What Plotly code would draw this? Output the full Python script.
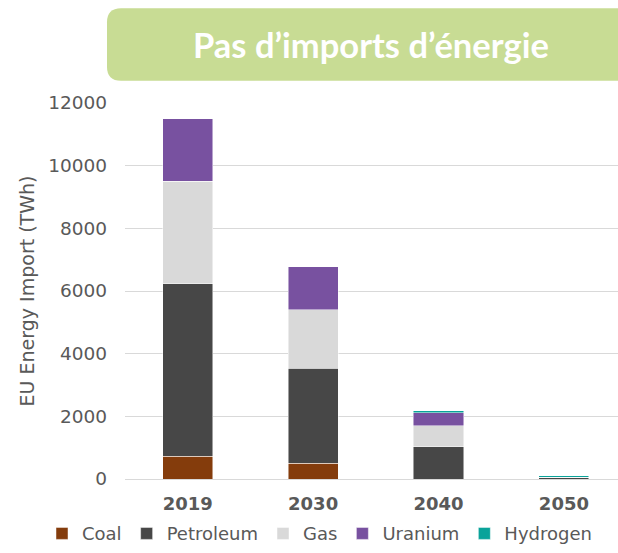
import plotly.graph_objects as go

years = ["2019", "2030", "2040", "2050"]
coal = [720, 510, 0, 0]
petroleum = [5510, 3030, 1030, 60]
gas = [3270, 1860, 670, 0]
uranium = [2000, 1380, 410, 0]
hydrogen = [0, 0, 65, 50]

series = [
    ("Coal", coal, "#843C0C"),
    ("Petroleum", petroleum, "#474747"),
    ("Gas", gas, "#D9D9D9"),
    ("Uranium", uranium, "#7851A0"),
    ("Hydrogen", hydrogen, "#0AA39A"),
]

W, H = 618, 553
L, R, T, B = 125, 0, 103.3, 73.7
PW, PH = W - L - R, H - T - B
UNIT = 125.4  # px per category


def px_x(sx):
    return (sx - L) / PW


def px_y(sy):
    return (H - B - sy) / PH


fig = go.Figure()
for name, vals, col in series:
    fig.add_trace(go.Bar(
        name=name, x=years, y=vals,
        marker=dict(color=col, line=dict(color="rgba(255,255,255,0.6)", width=0.8)),
    ))

# rounded title box, given in pixels
x0, x1, y0, y1, r = 107, 660, 8.5, 81, 14
def P(x, y):
    return f"{px_x(x):.5f},{px_y(y):.5f}"
path = (f"M{P(x0 + r, y0)} L{P(x1, y0)} L{P(x1, y1)} L{P(x0 + r, y1)} "
        f"Q{P(x0, y1)} {P(x0, y1 - r)} L{P(x0, y0 + r)} Q{P(x0, y0)} {P(x0 + r, y0)} Z")

gray = "#595959"
fig.update_layout(
    template="none",
    width=W, height=H,
    margin=dict(l=L, r=R, t=T, b=B, pad=0),
    plot_bgcolor="white", paper_bgcolor="white",
    barmode="stack", bargap=0.6,
    font=dict(family="DejaVu Sans", color=gray, size=18),
    shapes=[dict(type="path", xref="paper", yref="paper", path=path,
                 fillcolor="#C8DC94", line=dict(width=0), layer="below")],
    annotations=[dict(text="<b>Pas d’imports d’énergie</b>", xref="paper", yref="paper",
                      x=px_x(370.5), y=px_y(45), xanchor="center", yanchor="middle",
                      showarrow=False, font=dict(family="Lato", size=34.5, color="white"))],
    legend=dict(orientation="h", xref="paper", yref="paper",
                x=px_x(42), y=-(B - 0.5) / PH, xanchor="left", yanchor="bottom",
                traceorder="normal", font=dict(size=18, color=gray), itemwidth=30,
                bgcolor="rgba(0,0,0,0)"),
    xaxis=dict(type="category", range=[-0.5, -0.5 + PW / UNIT], showgrid=False, zeroline=False,
               showline=False, ticks="", ticklabelstandoff=12, automargin=False,
               tickfont=dict(size=18, color=gray, weight="bold")),
    yaxis=dict(range=[0, 12000], tickvals=[0, 2000, 4000, 6000, 8000, 10000, 12000],
               tickformat="d", automargin=False,
               showgrid=True, gridcolor="#D9D9D9", gridwidth=1.3, zeroline=True,
               zerolinecolor="#D9D9D9", zerolinewidth=1.3, showline=False, ticks="",
               ticklabelstandoff=17, tickfont=dict(size=18.5, color=gray),
               title=dict(text="EU Energy Import (TWh)", standoff=8,
                          font=dict(size=19, color=gray))),
)

fig.write_html("out.html", config={"displayModeBar": False},
               post_script="document.body.style.margin='0';")
